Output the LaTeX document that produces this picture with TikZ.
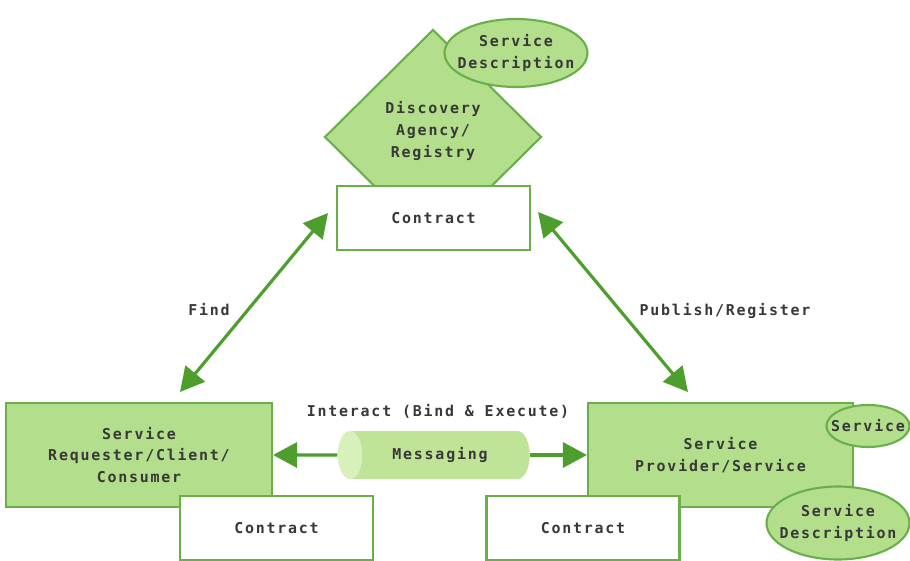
\documentclass[tikz,border=0pt]{standalone}
\usepackage{fontspec}
\newfontfamily\pixfont[LetterSpace=12]{DejaVu Sans Mono}
\usetikzlibrary{shapes.geometric, arrows.meta}

\definecolor{leaf}{HTML}{B3DE8C}
\definecolor{leafline}{HTML}{6AB04A}
\definecolor{leafdark}{HTML}{4E9E2E}
\definecolor{pipe}{HTML}{C0E497}
\definecolor{pipeend}{HTML}{D8F0BA}
\definecolor{ink}{HTML}{383838}

\begin{document}
\begin{tikzpicture}[x=0.02cm, y=-0.02cm, >={Triangle[length=0.48cm, width=0.5cm]},
    every node/.style={font=\pixfont\bfseries\fontsize{8.5}{12.5}\selectfont, text=ink, align=center},
    greenbox/.style={draw=leafline, line width=1.2pt, fill=leaf, inner sep=0pt},
    contract/.style={draw=leafline, line width=1.2pt, fill=white, minimum width=3.86cm, minimum height=1.28cm},
    bubble/.style={ellipse, draw=leafline, line width=1.2pt, fill=leaf, inner xsep=-5pt, inner ysep=0pt},
    link/.style={<->, draw=leafdark, line width=1.8pt},
    call/.style={->, draw=leafdark, line width=1.8pt}]
    \useasboundingbox (0,0) rectangle (910,561);

    % 1. 注册中心 (菱形在下, 合约框压在上面)
    \node[greenbox, diamond, minimum width=4.34cm, minimum height=4.3cm] (registry) at (433,137) {};
    \node (registryname) at (433,131) {Discovery\\Agency/\\Registry};
    \node[bubble, minimum width=2.86cm, minimum height=1.36cm] (regdesc) at (516,53) {Service\\Description};
    \node[contract] (regcontract) at (433.5,218) {Contract};

    % 2. 请求方
    \node[greenbox, minimum width=5.32cm, minimum height=2.08cm] (requester) at (139,455) {Service\\Requester/Client/\\Consumer};
    \node[contract] (reqcontract) at (276.5,528) {Contract};

    % 3. 提供方及其两个椭圆
    \node[greenbox, minimum width=5.3cm, minimum height=2.08cm] (provider) at (720.5,455) {Service\\Provider/Service};
    \node[contract] (provcontract) at (583,528) {Contract};
    \node[bubble, minimum width=1.66cm, minimum height=0.84cm] (service) at (868,426) {Service};
    \node[bubble, minimum width=2.86cm, minimum height=1.46cm] (provdesc) at (838,523) {Service\\Description};

    % 4. 消息管道与交互箭头
    \node[cylinder, shape border rotate=180, aspect=1.6, cylinder uses custom fill,
          cylinder body fill=pipe, cylinder end fill=pipeend, inner sep=0pt,
          minimum width=0.96cm, minimum height=3.84cm] (messaging) at (440,455) {Messaging};
    \draw[call] (messaging.west) -- (requester.east);
    \draw[call] (messaging.east) -- (provider.west);
    \node (interact) at (438,411) {Interact (Bind \& Execute)};

    % 5. 查找与发布 (双向斜箭头)
    \coordinate (findlow) at (180,392);
    \coordinate (findhigh) at (328,213);
    \coordinate (pubhigh) at (538,212);
    \coordinate (publow) at (688,392);
    \draw[link] (findlow) -- (findhigh);
    \draw[link] (pubhigh) -- (publow);
    \node (find) at (209,310) {Find};
    \node (publish) at (725,311) {Publish/Register};
\end{tikzpicture}
\end{document}
